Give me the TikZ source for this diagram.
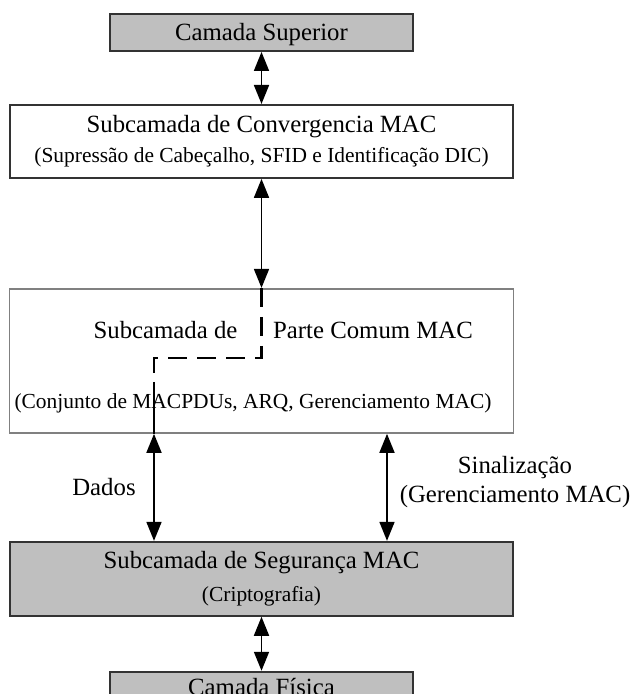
\documentclass[tikz,border=0pt]{standalone}
\usepackage{fontspec}
\setmainfont{Liberation Serif}
\usetikzlibrary{positioning}
\usetikzlibrary{arrows.meta}

\begin{document}
\begin{tikzpicture}[
  layer/.style={rectangle, draw=black!80, line width=1.1pt, inner sep=0pt, minimum width=10.06cm, align=center, font=\fontsize{14.1}{17}\selectfont},
  outer/.style={layer, fill=black!25, minimum width=6.06cm, minimum height=0.74cm, text height=0.32cm, text depth=0pt},
  link/.style={{Triangle[length=3.8mm,width=3mm]}-{Triangle[length=3.8mm,width=3mm]}, line width=1pt},
  big/.style={font=\fontsize{14.1}{17}\selectfont, inner sep=0pt},
  small/.style={font=\fontsize{12.2}{17}\selectfont, inner sep=0pt}]
\useasboundingbox (0,0) rectangle (12.6,13.88);
\node[outer] (sup) at (5.23,13.23) {Camada Superior};
\node[layer,minimum height=1.46cm,below=1.04cm of sup] (conv) {Subcamada de Convergencia MAC\\\fontsize{12.2}{17}\selectfont (Supressão de Cabeçalho, SFID e Identificação DIC)};
\node[layer,draw=black!50,minimum width=10.08cm,minimum height=2.88cm,below=2.18cm of conv] (cps) {};
\node[layer,fill=black!25,minimum height=1.48cm,below=2.14cm of cps] (seg) {Subcamada de Segurança MAC\\[2pt]\fontsize{12.2}{17}\selectfont (Criptografia)};
\node[outer,text height=0.2cm,below=1.08cm of seg] (fis) {Camada Física};
\node[big] (cpsname) at (3.31,7.28) {Subcamada de};
\node[big] (cpspart) at (7.46,7.28) {Parte Comum MAC};
\node[small] (cpsfunc) at (5.06,5.82) {(Conjunto de MACPDUs, ARQ, Gerenciamento MAC)};
\node[big] (dados) at (2.08,4.14) {Dados};
\node[big,align=center] (sinal) at (10.30,4.24) {Sinalização\\(Gerenciamento MAC)};
\coordinate (turn) at (3.08,6.72);
\coordinate (dat) at (3.08,6.24);
\draw[link] (sup) -- (conv);
\draw[link] (conv) -- (cps);
\draw[line width=1.4pt, dash pattern=on 0.38cm off 0.2cm] (cps.north) |- (turn) -- (dat);
\draw[line width=1pt] (dat) -- (dat |- cps.south);
\draw[link] (dat |- cps.south) -- (dat |- seg.north);
\draw[link] ([xshift=2.51cm]cps.south) -- ([xshift=2.51cm]seg.north);
\draw[link] (seg) -- (fis);
\end{tikzpicture}
\end{document}
